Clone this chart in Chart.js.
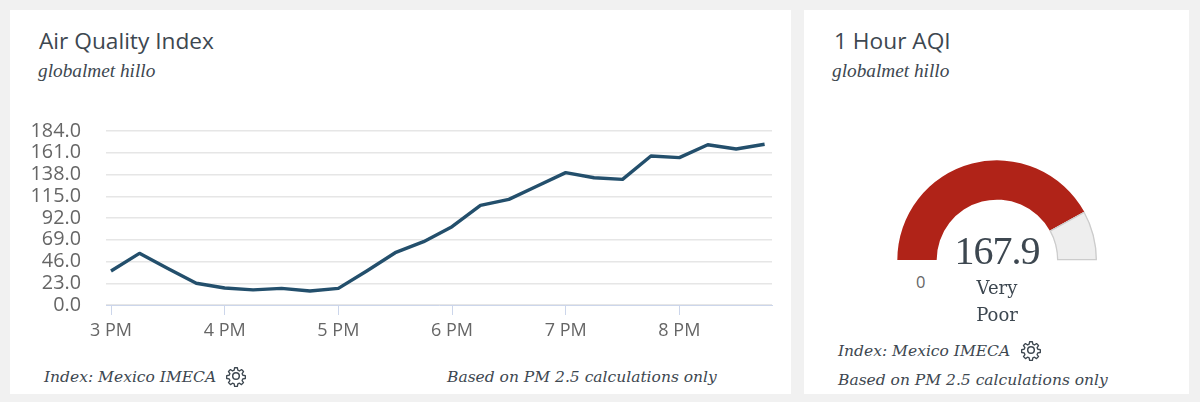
<!DOCTYPE html>
<html>
<head>
<meta charset="utf-8">
<script src="https://cdn.jsdelivr.net/npm/chart.js@4/dist/chart.umd.min.js"></script>
<style>
html, body { margin: 0; padding: 0; width: 1200px; height: 402px; overflow: hidden; background: #f1f1f1; }
.card { position: absolute; top: 10px; height: 384px; background: #fff; }
.txt { position: absolute; white-space: nowrap; line-height: 1; }
.title { font: 22.7px "Open Sans", sans-serif; color: #3d4750; }
.sub { font: italic 19.3px "Liberation Serif", serif; color: #3d4750; }
.foot { font: italic 15.5px "DejaVu Serif", serif; color: #3d4750; }
.gear { position: absolute; width: 22px; height: 22px; }
canvas { position: absolute; }
</style>
</head>
<body>
<div class="card" style="left:10px;width:781px"></div>
<div class="card" style="left:804px;width:385px"></div>

<div class="txt title" style="left:39px;top:25px">Air Quality Index</div>
<div class="txt sub" style="left:38px;top:60px">globalmet hillo</div>
<div class="txt title" style="left:834px;top:25px">1 Hour AQI</div>
<div class="txt sub" style="left:832px;top:60px">globalmet hillo</div>

<div style="position:absolute;left:0;top:110px;width:791px;height:250px"><canvas id="lineChart"></canvas></div>
<div style="position:absolute;left:893px;top:156px;width:208px;height:108px"><canvas id="gaugeChart"></canvas></div>

<div class="txt" style="left:916px;top:270px;font:16.5px 'Open Sans',sans-serif;color:#666">0</div>
<div class="txt" style="left:897px;top:227px;width:200px;text-align:center;font:40px 'Liberation Serif',serif;letter-spacing:-1px;color:#3d4750">167.9</div>
<div class="txt" style="left:897px;top:277px;width:200px;text-align:center;font:18px 'DejaVu Serif',serif;color:#3d4750">Very</div>
<div class="txt" style="left:897px;top:304px;width:200px;text-align:center;font:18px 'DejaVu Serif',serif;color:#3d4750">Poor</div>

<div class="txt foot" style="left:44px;top:368px">Index: Mexico IMECA</div>
<div class="txt foot" style="left:447px;top:368px">Based on PM 2.5 calculations only</div>
<div class="txt foot" style="left:838px;top:342px">Index: Mexico IMECA</div>
<div class="txt foot" style="left:838px;top:371px">Based on PM 2.5 calculations only</div>

<svg class="gear" style="left:225px;top:365px" viewBox="0 0 24 24" fill="none" stroke="#3d4750" stroke-width="1.6" stroke-linejoin="round"><circle cx="12" cy="12" r="3.6"/><path d="M10.3 2h3.4l.5 3 2 .9 2.5-1.7 2.4 2.4-1.7 2.5.9 2 3 .5v3.4l-3 .5-.9 2 1.7 2.5-2.4 2.4-2.5-1.7-2 .9-.5 3h-3.4l-.5-3-2-.9-2.5 1.7-2.4-2.4 1.7-2.5-.9-2-3-.5v-3.4l3-.5.9-2-1.7-2.5 2.4-2.4 2.5 1.7 2-.9z" transform="translate(1.2 1.2) scale(.9)"/></svg>
<svg class="gear" style="left:1020px;top:339px" viewBox="0 0 24 24" fill="none" stroke="#3d4750" stroke-width="1.6" stroke-linejoin="round"><circle cx="12" cy="12" r="3.6"/><path d="M10.3 2h3.4l.5 3 2 .9 2.5-1.7 2.4 2.4-1.7 2.5.9 2 3 .5v3.4l-3 .5-.9 2 1.7 2.5-2.4 2.4-2.5-1.7-2 .9-.5 3h-3.4l-.5-3-2-.9-2.5 1.7-2.4-2.4 1.7-2.5-.9-2-3-.5v-3.4l3-.5.9-2-1.7-2.5 2.4-2.4 2.5 1.7 2-.9z" transform="translate(1.2 1.2) scale(.9)"/></svg>

<script>
const times = [15, 15.25, 15.5, 15.75, 16, 16.25, 16.5, 16.75, 17, 17.25, 17.5, 17.75,
               18, 18.25, 18.5, 18.75, 19, 19.25, 19.5, 19.75, 20, 20.25, 20.5, 20.75];
const aqi = [36, 54.6, 38.6, 23, 18, 16, 17.6, 14.8, 17.6, 36, 55.3, 67,
             82.8, 105.4, 111.7, 125.8, 140, 134.6, 132.9, 157.6, 155.8, 169.5, 165, 170];
const yMax = 184;
const yStep = 23;
const hourLabels = { 15: "3 PM", 16: "4 PM", 17: "5 PM", 18: "6 PM", 19: "7 PM", 20: "8 PM" };
const gaugeValue = 167.9;
const gaugeMax = 200;

Chart.defaults.animation = false;

new Chart(document.getElementById("lineChart"), {
  type: 'line',
  data: {
    datasets: [
      {
        data: times.map((t, i) => ({ x: t, y: aqi[i] })),
        borderColor: '#234f6c',
        borderWidth: 3.4,
        pointRadius: 0,
        tension: 0,
        borderJoinStyle: 'round'
      }
    ]
  },
  options: {
    responsive: true,
    maintainAspectRatio: false,
    layout: { padding: { top: 21, right: 19, left: 0, bottom: 0 } },
    plugins: { legend: { display: false }, tooltip: { enabled: false } },
    scales: {
      x: {
        type: 'linear',
        min: 14.956,
        max: 20.815,
        afterFit: scale => { scale.height = 55; },
        grid: { drawOnChartArea: false, color: '#ccd6eb', tickLength: 10 },
        border: { color: '#ccd6eb' },
        ticks: {
          stepSize: 1,
          includeBounds: false,
          maxRotation: 0,
          padding: 5,
          color: '#666',
          font: { family: 'Open Sans', size: 18 },
          callback: val => hourLabels[val] || ''
        }
      },
      y: {
        min: 0,
        max: yMax,
        afterFit: scale => { scale.width = 106; },
        // transparent ticks push the labels away from the plot
        grid: { color: '#e6e6e6', lineWidth: 1.5, tickColor: 'rgba(0,0,0,0)', tickLength: 25 },
        border: { display: false },
        ticks: {
          stepSize: yStep,
          autoSkip: false,
          padding: 0,
          color: '#666',
          font: { family: 'Open Sans', size: 19.8 },
          callback: val => val.toFixed(1)
        }
      }
    }
  }
});

new Chart(document.getElementById("gaugeChart"), {
  type: 'doughnut',
  data: {
    datasets: [
      {
        data: [gaugeValue, gaugeMax - gaugeValue],
        backgroundColor: ['#b02318', '#eeeeee'],
        borderColor: ['#b02318', '#cccccc'],
        borderWidth: [0, 1],
        borderAlign: 'inner'
      }
    ]
  },
  options: {
    responsive: true,
    maintainAspectRatio: false,
    rotation: -90,
    circumference: 180,
    cutout: '60%',
    radius: 100,
    plugins: { legend: { display: false }, tooltip: { enabled: false } }
  }
});
</script>
</body>
</html>
